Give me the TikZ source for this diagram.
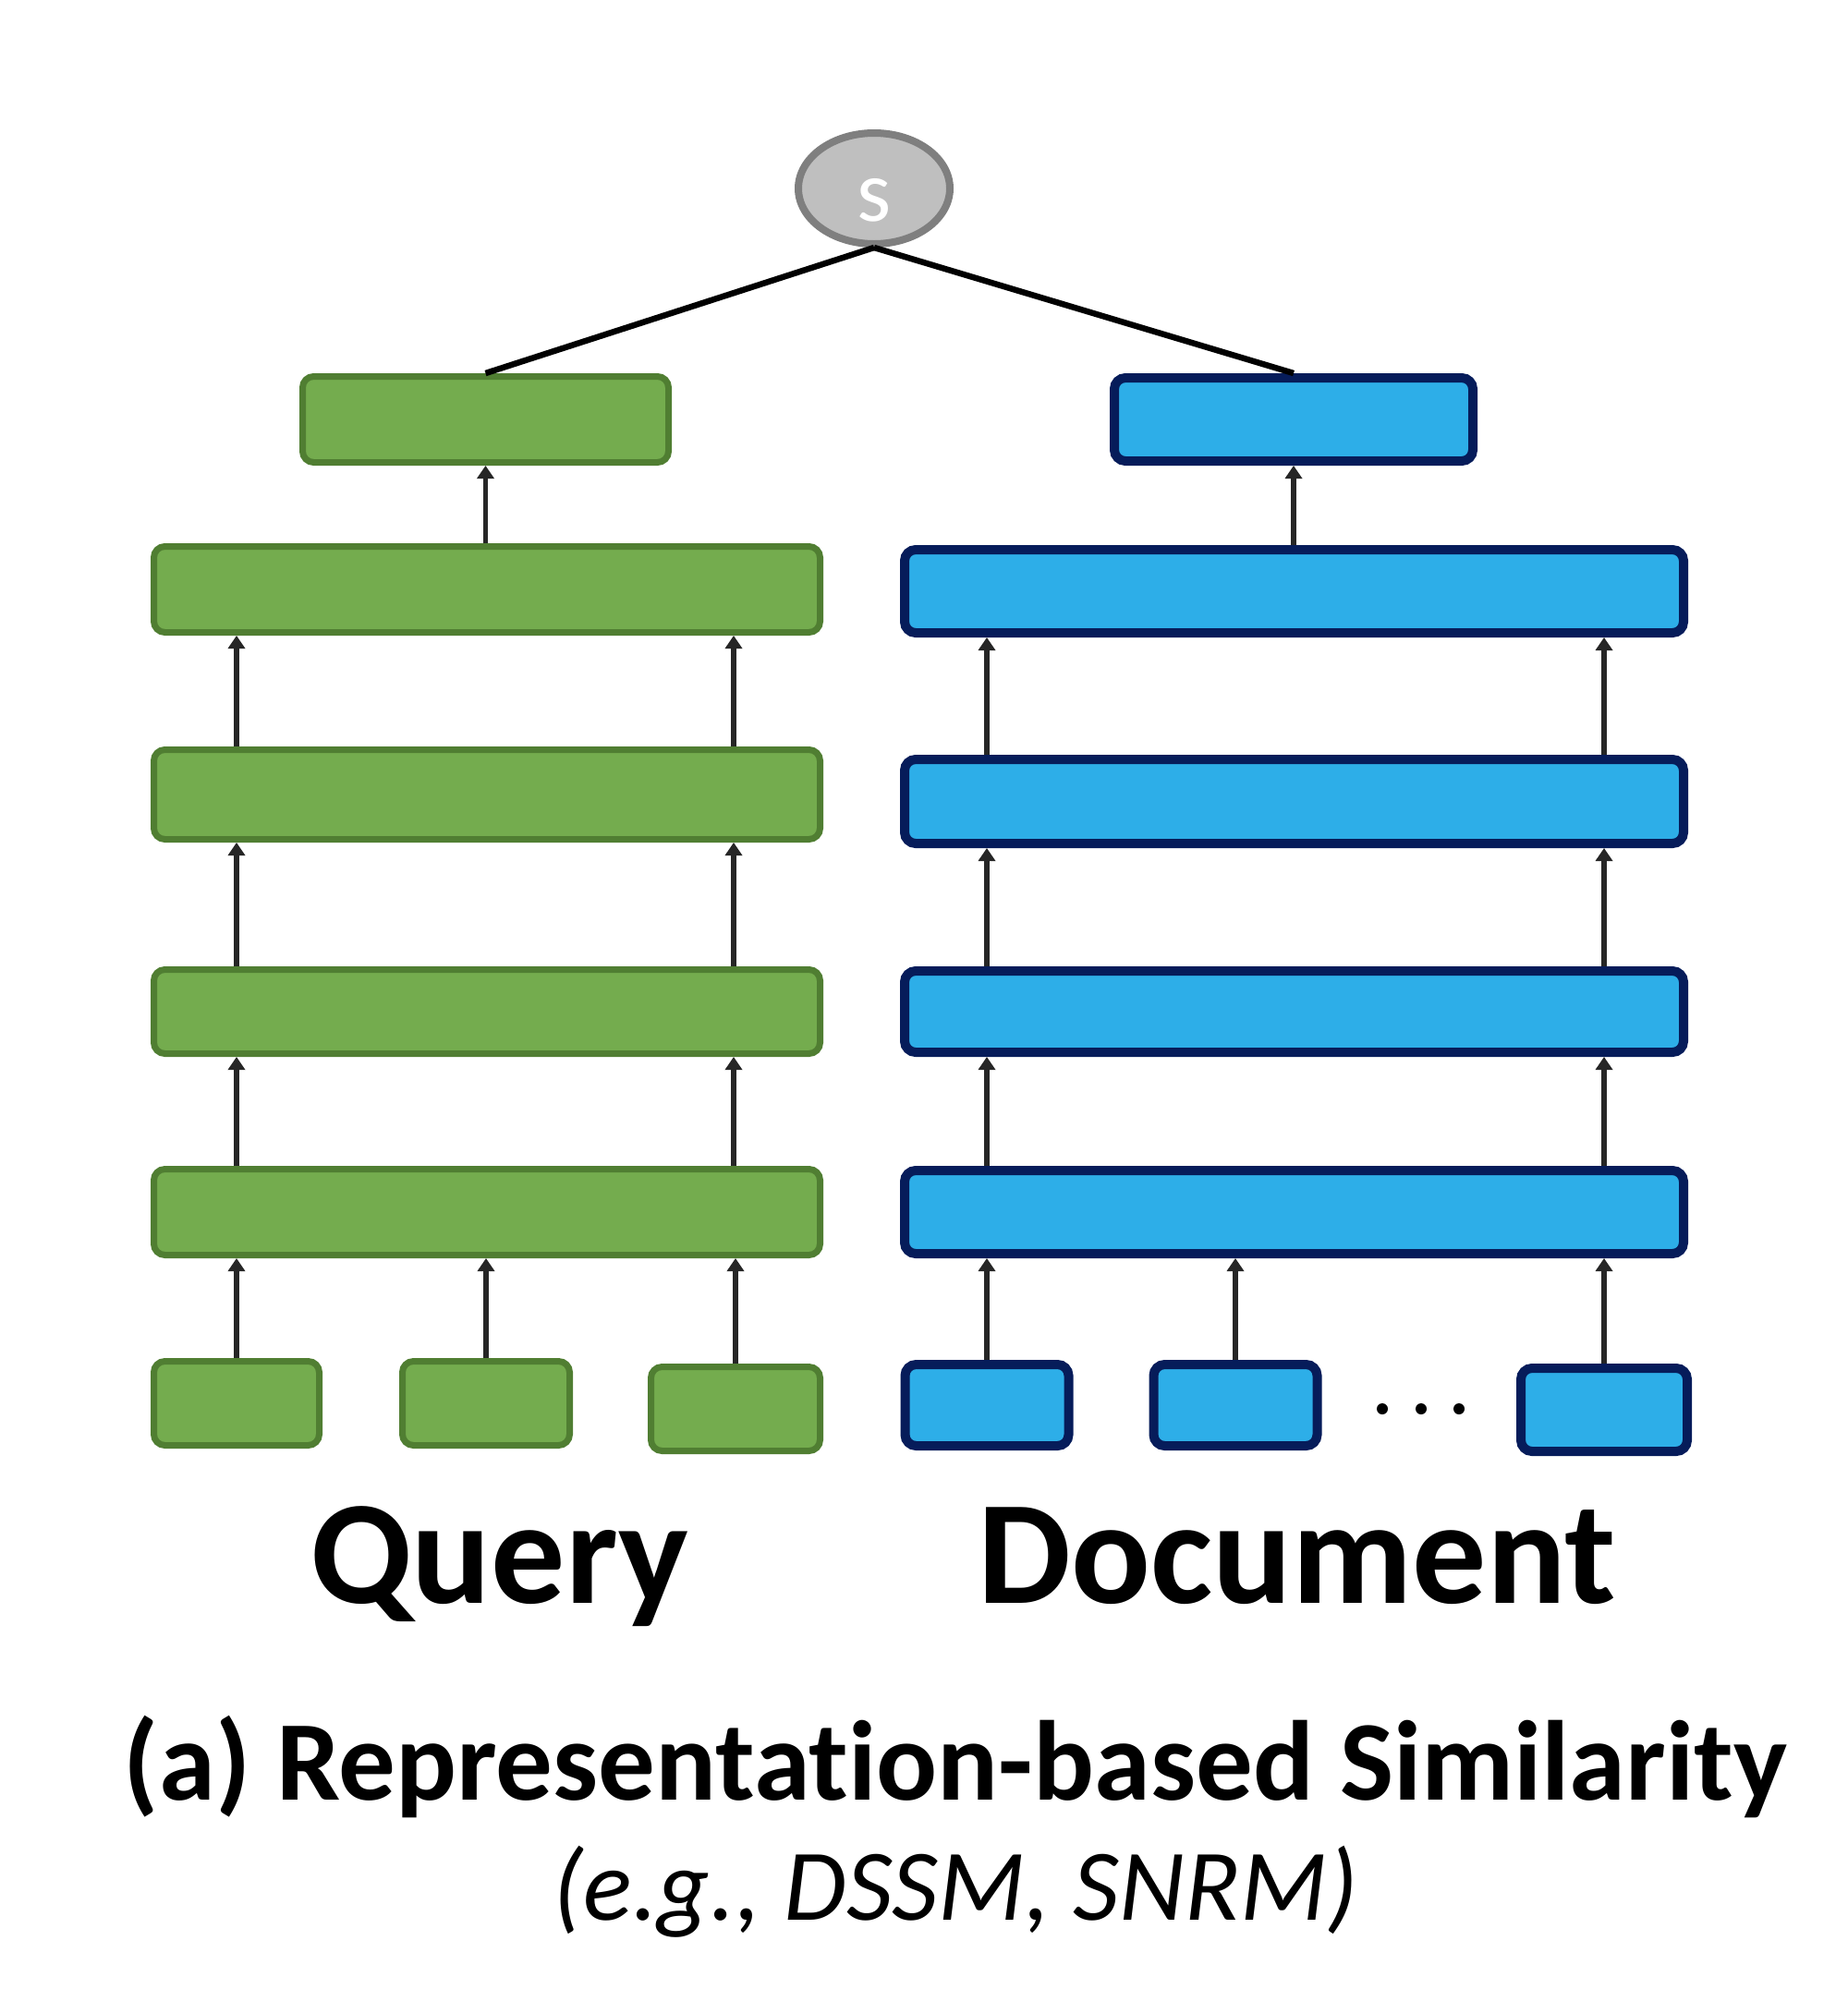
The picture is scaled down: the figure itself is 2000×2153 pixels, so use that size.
\documentclass[tikz,border=0pt]{standalone}
\usepackage{fontspec}
\setmainfont{Carlito}[Ligatures=NoCommon]
\usetikzlibrary{shapes.geometric,arrows.meta}
\definecolor{gfill}{HTML}{74AC4E}
\definecolor{gline}{HTML}{507E32}
\definecolor{bfill}{HTML}{2DAEE8}
\definecolor{bline}{HTML}{061C5A}
\definecolor{sfill}{HTML}{BFBFBF}
\definecolor{sline}{HTML}{7F7F7F}
\begin{document}
\begin{tikzpicture}[x=1pt,y=-1pt,
  gbox/.style={draw=gline, fill=gfill, line width=7pt, rounded corners=12pt, inner sep=0pt},
  bbox/.style={draw=bline, fill=bfill, line width=10pt, rounded corners=12pt, inner sep=0pt},
  arr/.style={draw=black!85, line width=5.5pt, -{Triangle[length=14pt,width=18pt]}},
  link/.style={draw=black, line width=6.5pt},
  dotmark/.style={fill=black, circle, inner sep=0pt, minimum size=12pt},
]
\useasboundingbox (0,0) rectangle (2000,2153);

% score node
\node[ellipse, draw=sline, fill=sfill, line width=8pt, minimum width=164pt, minimum height=120pt, inner sep=0pt] (S) at (946,204) {};
\node[text=white, font=\fontsize{95}{95}\selectfont, inner sep=0pt] (slab) at (946,217) {s};

% query tower
\node[gbox, minimum width=396pt, minimum height=93pt] (gt) at (525.5,454) {};
\node[gbox, minimum width=721pt, minimum height=93pt] (g1) at (527,638) {};
\node[gbox, minimum width=721pt, minimum height=97pt] (g2) at (527,860) {};
\node[gbox, minimum width=721pt, minimum height=91pt] (g3) at (527,1095) {};
\node[gbox, minimum width=721pt, minimum height=93pt] (g4) at (527,1312) {};
\node[gbox, minimum width=179pt, minimum height=91pt] (q1) at (256,1519) {};
\node[gbox, minimum width=181pt, minimum height=91pt] (q2) at (526,1519) {};
\node[gbox, minimum width=183pt, minimum height=91pt] (q3) at (796,1525) {};

% document tower
\node[bbox, minimum width=388pt, minimum height=90pt] (bt) at (1400,454) {};
\node[bbox, minimum width=843pt, minimum height=90pt] (b1) at (1400.5,640) {};
\node[bbox, minimum width=843pt, minimum height=91pt] (b2) at (1400.5,867.5) {};
\node[bbox, minimum width=843pt, minimum height=88pt] (b3) at (1400.5,1095) {};
\node[bbox, minimum width=843pt, minimum height=90pt] (b4) at (1400.5,1312) {};
\node[bbox, minimum width=177pt, minimum height=88pt] (d1) at (1068,1521) {};
\node[bbox, minimum width=177pt, minimum height=88pt] (d2) at (1337,1521) {};
\node[bbox, minimum width=180pt, minimum height=90pt] (d3) at (1736,1526) {};

\node[dotmark] (e1) at (1496,1525) {};
\node[dotmark] (e2) at (1538,1525) {};
\node[dotmark] (e3) at (1579,1525) {};

% column coordinates
\coordinate (gL) at (256,0);
\coordinate (gR) at (794,0);
\coordinate (bL) at (1068,0);
\coordinate (bR) at (1736,0);

% links to score
\draw[link] (S.south) -- (gt.north);
\draw[link] (S.south) -- (bt.north);

% query arrows
\draw[arr] (g1.north -| gt.south) -- (gt.south);
\foreach \lo/\hi in {g2/g1, g3/g2, g4/g3} {
  \draw[arr] (\lo.north -| gL) -- (\hi.south -| gL);
  \draw[arr] (\lo.north -| gR) -- (\hi.south -| gR);
}
\draw[arr] (q1.north) -- (q1.north |- g4.south);
\draw[arr] (q2.north) -- (q2.north |- g4.south);
\draw[arr] (q3.north) -- (q3.north |- g4.south);

% document arrows
\draw[arr] (b1.north -| bt.south) -- (bt.south);
\foreach \lo/\hi in {b2/b1, b3/b2, b4/b3} {
  \draw[arr] (\lo.north -| bL) -- (\hi.south -| bL);
  \draw[arr] (\lo.north -| bR) -- (\hi.south -| bR);
}
\draw[arr] (d1.north) -- (d1.north |- b4.south);
\draw[arr] (d2.north) -- (d2.north |- b4.south);
\draw[arr] (d3.north) -- (d3.north |- b4.south);

% labels
\node[font=\bfseries\fontsize{160}{160}\selectfont, anchor=base, inner sep=0pt] (qlab) at (541,1735) {Query};
\node[font=\bfseries\fontsize{160}{160}\selectfont, anchor=base, inner sep=0pt] (dlab) at (1404,1735) {Document};
\node[font=\bfseries\fontsize{123}{123}\selectfont, anchor=base, inner sep=0pt] (cap1) at (1034,1948) {(a) Representation-based Similarity};
\node[font=\itshape\fontsize{110}{110}\selectfont, anchor=base, inner sep=0pt] (cap2) at (1034,2078) {(e.g., DSSM, SNRM)};
\end{tikzpicture}
\end{document}
